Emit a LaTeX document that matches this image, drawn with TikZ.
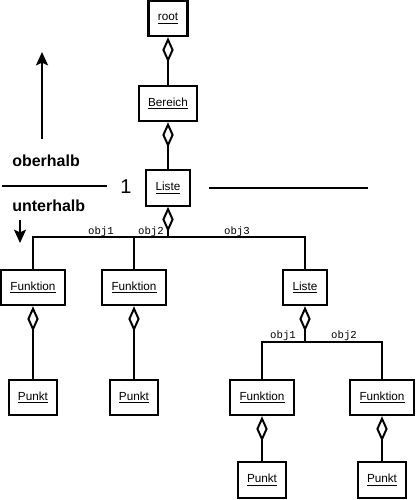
\documentclass[tikz,border=0pt]{standalone}
\usepackage{fontspec}
\setmainfont{Liberation Sans}
\setmonofont{Liberation Mono}
\usetikzlibrary{arrows.meta}

\begin{document}
\begin{tikzpicture}[
    x=0.75pt, y=-0.75pt,
    obj/.style={draw, line width=1.6pt, inner xsep=7pt, minimum height=26.5pt, font=\fontsize{8.8}{10}\selectfont},
    lnk/.style={line width=1.5pt},
    agg/.style={line width=1.5pt, {Diamond[open, length=19pt, width=8.5pt]}-},
    rol/.style={font=\ttfamily\fontsize{8}{9}\selectfont, inner sep=1pt},
    side/.style={font=\bfseries\fontsize{12}{14}\selectfont, anchor=west, inner sep=0pt},
    >={Stealth[length=10pt, width=9pt, inset=2pt]}
]
    \useasboundingbox (0,0) rectangle (416,500);

    % Objekte
    \node[obj] (root)    at (168,18.5)  {\underline{root}};
    \node[obj] (bereich) at (168,103.5) {\underline{Bereich}};
    \node[obj] (liste)   at (168,188)   {\underline{Liste}};
    \node[obj] (fkt1)    at (33,287.5)  {\underline{Funktion}};
    \node[obj] (fkt2)    at (134,287.5) {\underline{Funktion}};
    \node[obj] (liste2)  at (305,287.5) {\underline{Liste}};
    \node[obj] (pkt1)    at (33,397.5)  {\underline{Punkt}};
    \node[obj] (pkt2)    at (134,397.5) {\underline{Punkt}};
    \node[obj] (fkt3)    at (262,397.5) {\underline{Funktion}};
    \node[obj] (fkt4)    at (382,397.5) {\underline{Funktion}};
    \node[obj] (pkt3)    at (262,480)   {\underline{Punkt}};
    \node[obj] (pkt4)    at (382,480)   {\underline{Punkt}};

    % Aggregationen
    \draw[agg] (root.south) -- (bereich.north);
    \draw[agg] (bereich.south) -- (liste.north);

    \coordinate (j1) at (168,237);
    \draw[agg] (liste.south) -- (j1);
    \draw[lnk] (fkt1.north) |- (j1) -| (liste2.north);
    \draw[lnk] (fkt2.north) -- (fkt2.north |- j1);

    \coordinate (j2) at (305,342);
    \draw[agg] (liste2.south) -- (j2);
    \draw[lnk] (fkt3.north) |- (j2) -| (fkt4.north);

    \draw[agg] (fkt1.south) -- (pkt1.north);
    \draw[agg] (fkt2.south) -- (pkt2.north);
    \draw[agg] (fkt3.south) -- (pkt3.north);
    \draw[agg] (fkt4.south) -- (pkt4.north);

    % Rollen
    \node[rol] (r1) at (101,232) {obj1};
    \node[rol] (r2) at (151,232) {obj2};
    \node[rol] (r3) at (237,232) {obj3};
    \node[rol] (r4) at (283,336) {obj1};
    \node[rol] (r5) at (344,336) {obj2};

    % Trennlinie
    \node[side] (ober)  at (12,161) {oberhalb};
    \node[side] (unter) at (12,206) {unterhalb};
    \node[font=\fontsize{15}{17}\selectfont, inner sep=0pt] (eins) at (126,187) {1};
    \draw[lnk] (2,186) -- (107,186);
    \draw[lnk] (209,188) -- (368,188);
    \draw[lnk, ->] (42,139) -- (42,52);
    \draw[lnk, ->] (20,220) -- (20,243);
\end{tikzpicture}
\end{document}
